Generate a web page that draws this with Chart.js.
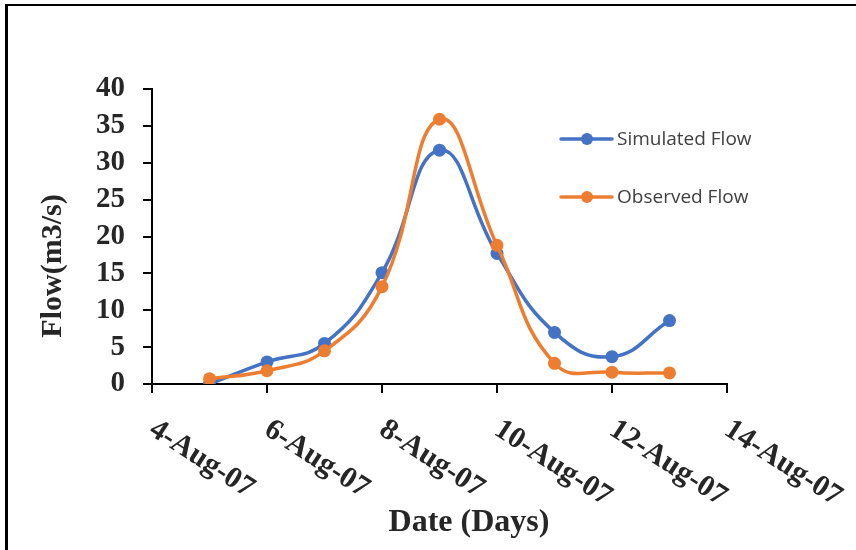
<!DOCTYPE html>
<html>
<head>
<meta charset="utf-8">
<script src="https://cdn.jsdelivr.net/npm/chart.js@4.4.1/dist/chart.umd.min.js"></script>
<style>
  html, body { margin: 0; padding: 0; background: #fff; }
  #wrap { position: relative; width: 856px; height: 550px; overflow: hidden; }
  #frame { position: absolute; left: 5px; top: 4px; right: 0; bottom: 0; border-left: 3px solid #000; border-top: 2px solid #000; }
  canvas { position: absolute; left: 0; top: 0; }
</style>
</head>
<body>
<div id="wrap">
  <div id="frame"></div>
  <canvas id="chart" width="856" height="550"></canvas>
</div>
<script>
// days of August 2007
const days = [5, 6, 7, 8, 9, 10, 11, 12, 13]
const simulatedFlow = [0.0, 3.0, 5.5, 15.1, 31.7, 17.7, 7.0, 3.7, 8.6]
const observedFlow = [0.7, 1.8, 4.5, 13.2, 35.9, 18.8, 2.8, 1.6, 1.5]
const seriesNames = ["Simulated Flow", "Observed Flow"]
const xTitle = "Date (Days)"
const yTitle = "Flow(m3/s)"

const colors = {
  simulated: "#4472C4",
  observed: "#ED7D31",
  text: "#262626",
  legend: "#404040",
}
const serif = "'Liberation Serif', 'Times New Roman', serif"

const dayLabel = (d) => d + "-Aug-07"

// x tick labels run down-right from the tick, plus titles and legend
const extraText = {
  id: "extraText",
  afterDraw(chart) {
    const { ctx, scales: { x } } = chart
    ctx.save()
    ctx.fillStyle = colors.text
    ctx.font = "bold 30px " + serif
    ctx.textAlign = "left"
    ctx.textBaseline = "middle"
    x.ticks.forEach((t) => {
      const px = x.getPixelForValue(t.value)
      ctx.save()
      ctx.translate(px, x.top + 43)
      ctx.rotate(33 * Math.PI / 180)
      ctx.fillText(dayLabel(t.value), 0, 0)
      ctx.restore()
    })

    ctx.textAlign = "center"
    ctx.font = "bold 32px " + serif
    ctx.fillText(xTitle, 469, 523)

    ctx.save()
    ctx.translate(53, 266)
    ctx.rotate(-Math.PI / 2)
    ctx.font = "bold 30px " + serif
    ctx.fillText(yTitle, 0, 0)
    ctx.restore()

    // legend
    const items = [
      { name: seriesNames[0], color: colors.simulated, y: 139 },
      { name: seriesNames[1], color: colors.observed, y: 197 },
    ]
    ctx.font = "19px 'Open Sans', sans-serif"
    ctx.textAlign = "left"
    items.forEach((it) => {
      ctx.strokeStyle = it.color
      ctx.lineWidth = 3.5
      ctx.lineCap = "round"
      ctx.beginPath()
      ctx.moveTo(561, it.y)
      ctx.lineTo(612, it.y)
      ctx.stroke()
      ctx.fillStyle = it.color
      ctx.beginPath()
      ctx.arc(587, it.y, 6, 0, Math.PI * 2)
      ctx.fill()
      ctx.fillStyle = colors.legend
      ctx.fillText(it.name, 617, it.y + 1)
    })
    ctx.restore()
  }
}

const axisGrid = { drawOnChartArea: false, drawTicks: true, tickLength: 9, color: "#000", lineWidth: 2 }

new Chart(document.getElementById("chart"), {
  type: "line",
  data: {
    datasets: [
      {
        label: seriesNames[0],
        data: days.map((d, i) => ({ x: d, y: simulatedFlow[i] })),
        borderColor: colors.simulated,
        backgroundColor: colors.simulated,
        borderWidth: 3.5,
        pointRadius: 6.5,
        pointBorderWidth: 0,
        tension: 0.45,
        order: 1,
      },
      {
        label: seriesNames[1],
        data: days.map((d, i) => ({ x: d, y: observedFlow[i] })),
        borderColor: colors.observed,
        backgroundColor: colors.observed,
        borderWidth: 3.5,
        pointRadius: 6.5,
        pointBorderWidth: 0,
        tension: 0.45,
        order: 0,
      },
    ],
  },
  options: {
    responsive: false,
    animation: false,
    layout: { padding: { top: 89, right: 129, left: 0, bottom: 0 } },
    plugins: {
      legend: { display: false },
      tooltip: { enabled: false },
    },
    scales: {
      x: {
        type: "linear",
        min: 4,
        max: 14,
        ticks: { stepSize: 2, display: false },
        grid: axisGrid,
        border: { color: "#000", width: 2 },
        afterFit: (s) => { s.height = 166 },
      },
      y: {
        min: 0,
        max: 40,
        ticks: {
          stepSize: 5,
          autoSkip: false,
          padding: 18,
          color: colors.text,
          font: { family: serif, size: 29, weight: "bold" },
        },
        grid: axisGrid,
        border: { color: "#000", width: 2 },
        afterFit: (s) => { s.width = 152 },
      },
    },
  },
  plugins: [extraText],
})
</script>
</body>
</html>
